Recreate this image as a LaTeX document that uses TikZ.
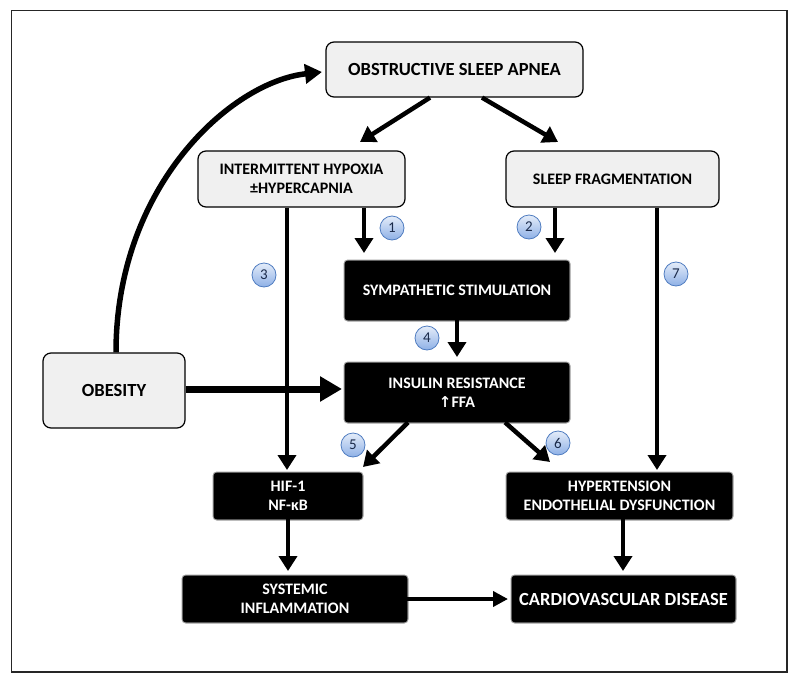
\documentclass[tikz,border=0pt]{standalone}
\usepackage{fontspec}
\setmainfont{Carlito}
\newfontfamily\symfont{DejaVu Sans}
\usetikzlibrary{arrows.meta}
\definecolor{boxgray}{HTML}{F0F0F0}
\definecolor{numtop}{HTML}{E4ECF9}
\definecolor{numbot}{HTML}{8EB0E6}
\definecolor{numline}{HTML}{4F7CC0}
\definecolor{numtext}{HTML}{1A2A4A}
\begin{document}
\begin{tikzpicture}[x=1pt,y=-1pt,
  lightbox/.style={draw=black, line width=1.2pt, fill=boxgray, rounded corners=8pt,
    align=center, inner sep=0pt, font=\bfseries\fontsize{16}{19}\selectfont},
  darkbox/.style={fill=black, draw=black, line width=0.8pt, rounded corners=3pt,
    preaction={draw=black!40, line width=3pt}, text=white,
    align=center, inner sep=0pt, font=\bfseries\fontsize{16}{19}\selectfont},
  bigtext/.style={font=\bfseries\fontsize{18.5}{21}\selectfont},
  arr/.style={line width=4.5pt, -{Triangle[length=15pt,width=18pt]}},
  thickarr/.style={line width=7pt, -{Triangle[length=22pt,width=24pt]}},
  num/.style={circle, minimum size=24pt, inner sep=0pt, draw=numline, line width=0.8pt,
    top color=numtop, bottom color=numbot, text=numtext, font=\fontsize{15}{15}\selectfont}
]
\useasboundingbox (0,0) rectangle (800,680);
\draw[line width=1.5pt, black!85] (11.5,10.5) rectangle (787,672);

% nodes
\node[lightbox, bigtext, minimum width=257pt, minimum height=55pt] (osa) at (454.5,69.5) {OBSTRUCTIVE SLEEP APNEA};
\node[lightbox, minimum width=207pt, minimum height=56pt] (ih) at (301.5,179) {INTERMITTENT HYPOXIA\\±HYPERCAPNIA};
\node[lightbox, minimum width=213pt, minimum height=56pt] (sf) at (612.5,179) {SLEEP FRAGMENTATION};
\node[darkbox, minimum width=224pt, minimum height=59pt] (sym) at (457,290.5) {SYMPATHETIC STIMULATION};
\node[darkbox, minimum width=224pt, minimum height=59pt] (ins) at (457,392.5) {INSULIN RESISTANCE\\{\symfont\fontsize{15}{15}\selectfont ↑}FFA};
\node[lightbox, bigtext, minimum width=142pt, minimum height=75pt] (ob) at (114,390.5) {OBESITY};
\node[darkbox, minimum width=148pt, minimum height=46pt] (hif) at (288,496) {HIF-1\\NF-κB};
\node[darkbox, minimum width=225pt, minimum height=46pt] (hyp) at (619.5,496) {HYPERTENSION\\ENDOTHELIAL DYSFUNCTION};
\node[darkbox, minimum width=224pt, minimum height=46pt] (sys) at (295,599) {SYSTEMIC\\INFLAMMATION};
\node[darkbox, bigtext, minimum width=223pt, minimum height=46pt] (cvd) at (623.5,599) {CARDIOVASCULAR DISEASE};

% number badges
\node[num] (n1) at (392,228) {1};
\node[num] (n2) at (529,227) {2};
\node[num] (n3) at (264,275) {3};
\node[num] (n4) at (427,338) {4};
\node[num] (n5) at (353,445) {5};
\node[num] (n6) at (558,443) {6};
\node[num] (n7) at (676,274) {7};

% helper coordinates
\coordinate (sL) at (430,0);
\coordinate (tL) at (360,142);
\coordinate (sR) at (482,0);
\coordinate (tR) at (558,142);
\coordinate (t1) at (364,253);
\coordinate (t2) at (555,253);
\coordinate (t3) at (287,470);
\coordinate (t4) at (457,357);
\coordinate (tob) at (342,389);
\coordinate (s5) at (408,0);
\coordinate (t5) at (363,467);
\coordinate (s6) at (505,0);
\coordinate (t6) at (550,462);
\coordinate (t7) at (657,470);
\coordinate (t8) at (288,571);
\coordinate (t9) at (623,571);
\coordinate (t10) at (508,599);
\coordinate (tc) at (322,72);
\coordinate (obtop) at (116,0);

% connectors
\draw[arr] (osa.south -| sL) -- (tL);
\draw[arr] (osa.south -| sR) -- (tR);
\draw[arr] (ih.south -| t1) -- (t1);
\draw[arr] (sf.south -| t2) -- (t2);
\draw[arr] (ih.south -| t3) -- (t3);
\draw[arr] (sym.south -| t4) -- (t4);
\draw[arr] (ins.south -| s5) -- (t5);
\draw[arr] (ins.south -| s6) -- (t6);
\draw[arr] (sf.south -| t7) -- (t7);
\draw[arr] (hif.south -| t8) -- (t8);
\draw[arr] (hyp.south -| t9) -- (t9);
\draw[line width=4pt, -{Triangle[length=15pt,width=15pt]}] (sys.east |- t10) -- (t10);
\draw[thickarr] (ob.east |- tob) -- (tob);
\draw[line width=5.5pt, -{Triangle[length=17pt,width=19pt]}] (ob.north -| obtop) .. controls (116,186) and (231,82) .. (tc);
\end{tikzpicture}
\end{document}
